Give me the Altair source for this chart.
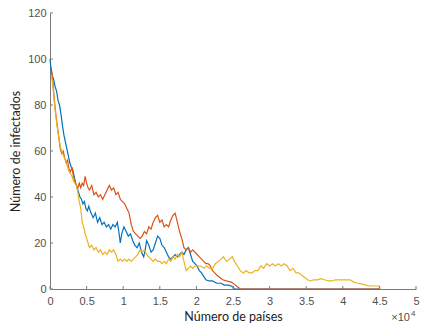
import altair as alt
import pandas as pd

blue = [(0,100),(0.01,97),(0.03,93),(0.05,91),(0.07,88),(0.09,86),(0.11,82),(0.13,80),(0.15,76),(0.17,71),
        (0.19,67),(0.21,64),(0.23,61),(0.25,58),(0.27,55),(0.29,53),(0.31,52),(0.33,49),(0.35,46),(0.37,44),
        (0.39,42),(0.41,40),(0.43,39),(0.45,37),(0.47,38),(0.49,35),(0.51,34),(0.53,36),(0.56,33),(0.59,31),
        (0.62,33),(0.65,29),(0.68,31),(0.71,28),(0.74,29),(0.77,27),(0.80,28),(0.83,26),(0.86,28),(0.89,27),
        (0.92,29),(0.94,25),(0.96,20),(0.98,24),(1.01,27),(1.04,25),(1.07,23),(1.10,24),(1.13,21),(1.16,19),
        (1.19,18),(1.22,20),(1.25,16),(1.28,14),(1.30,17),(1.32,21),(1.35,19),(1.38,16),(1.41,17),(1.44,20),
        (1.47,23),(1.50,22),(1.53,19),(1.56,18),(1.59,16),(1.62,14),(1.65,13),(1.68,14),(1.71,15),(1.74,14),
        (1.77,15),(1.80,16),(1.83,15),(1.86,17),(1.89,18),(1.92,15),(1.95,12),(1.98,11),(2.01,10),(2.04,8),
        (2.07,7),(2.10,5.5),(2.13,4),(2.17,3.5),(2.22,3.5),(2.28,2.5),(2.34,2.5),(2.38,1.7),(2.44,1.7),(2.50,1),
        (2.52,0),(4.5,0)]

orange = [(0.02,95),(0.04,90),(0.06,82),(0.08,76),(0.10,71),(0.12,66),(0.14,61),(0.16,59),(0.18,60),(0.20,57),
          (0.22,55),(0.24,56),(0.26,52),(0.28,51),(0.30,53),(0.32,49),(0.34,47),(0.36,45),(0.38,44),(0.40,46),
          (0.42,44),(0.44,46),(0.46,45),(0.48,49),(0.50,46),(0.52,44),(0.54,43),(0.57,45),(0.60,41),(0.63,42),
          (0.66,40),(0.69,41),(0.72,39),(0.75,41),(0.78,43),(0.81,45),(0.84,43),(0.87,44),(0.90,41),(0.93,42),
          (0.96,39),(0.99,38),(1.02,37),(1.05,35),(1.08,33),(1.11,28),(1.14,25),(1.17,24),(1.20,23),(1.23,22),
          (1.26,23),(1.29,25),(1.32,24),(1.35,27),(1.38,26),(1.41,29),(1.44,31),(1.47,32),(1.50,29),(1.53,30),
          (1.56,27),(1.59,28),(1.62,27),(1.65,30),(1.68,32),(1.71,33),(1.74,29),(1.77,25),(1.80,22),(1.83,18),
          (1.86,17),(1.89,18),(1.92,16),(1.95,17),(1.98,16),(2.01,15),(2.04,14),(2.07,13),(2.10,12),(2.13,11),
          (2.16,11),(2.19,10),(2.22,8),(2.25,7),(2.28,6),(2.32,5),(2.36,4),(2.42,3.4),(2.48,3),(2.52,2),
          (2.56,1),(2.60,0),(4.5,0)]

yellow = [(0.02,93),(0.04,88),(0.06,81),(0.08,75),(0.10,70),(0.12,66),(0.14,62),(0.16,60),(0.18,58),(0.20,57),
          (0.22,55),(0.24,53),(0.26,51),(0.28,50),(0.30,49),(0.32,47),(0.34,46),(0.36,45),(0.38,42),(0.40,38),
          (0.42,35),(0.44,29),(0.46,27),(0.48,24),(0.50,22),(0.52,20),(0.54,18),(0.57,19),(0.60,17),(0.63,18),
          (0.66,16),(0.69,17),(0.72,15),(0.75,16),(0.78,15),(0.81,17),(0.84,16),(0.87,17),(0.90,15),(0.93,12),
          (0.96,13),(0.99,12),(1.02,13),(1.05,12),(1.08,13),(1.11,12),(1.14,13),(1.17,14),(1.20,15),(1.23,17),
          (1.26,16),(1.29,17),(1.32,15),(1.35,14),(1.38,13),(1.41,12),(1.44,13),(1.47,12),(1.50,12),(1.53,11),
          (1.56,12),(1.59,11),(1.62,13),(1.65,12),(1.68,14),(1.71,13),(1.74,15),(1.77,14),(1.80,16),(1.83,12),
          (1.86,8),(1.89,9),(1.92,10),(1.95,9),(1.98,10),(2.02,10),(2.06,10),(2.10,9),(2.14,10),(2.18,9),
          (2.22,9),(2.26,11),(2.30,12),(2.34,13),(2.37,14),(2.41,12),(2.45,13),(2.49,14),(2.52,12),(2.56,10),
          (2.60,8),(2.64,7),(2.68,8),(2.72,7),(2.76,7),(2.80,8),(2.84,8),(2.88,10),(2.92,9),(2.96,11),
          (3.00,10),(3.04,11),(3.08,10),(3.12,11),(3.16,10),(3.20,11),(3.24,10),(3.28,8),(3.32,9),(3.36,7),
          (3.40,7),(3.44,6),(3.48,5),(3.52,4),(3.56,3.5),(3.60,4),(3.65,4),(3.70,4.5),(3.75,4),(3.80,3.5),
          (3.85,3.5),(3.90,4),(3.95,4),(4.00,4),(4.05,4),(4.10,4),(4.15,3),(4.20,2.5),(4.28,2),(4.34,1.5),
          (4.40,1.3),(4.50,1.3),(4.51,0)]

x_ticks = [0, 0.5, 1, 1.5, 2, 2.5, 3, 3.5, 4, 4.5, 5]
y_ticks = [0, 20, 40, 60, 80, 100, 120]
colors = ["#0072BD", "#D95319", "#EDB120"]

rows = []
for name, series in [("1", blue), ("2", orange), ("3", yellow)]:
    for i, (xv, yv) in enumerate(series):
        rows.append({"s": name, "i": i, "x": xv, "y": yv})
df = pd.DataFrame(rows)

W, H = 366, 276
axis_color = "#7a7a7a"
label_color = "#505050"

xscale = alt.Scale(domain=[0, 5], nice=False, zero=False)
yscale = alt.Scale(domain=[0, 120], nice=False)

xaxis = alt.Axis(values=x_ticks, format="~g", ticks=False, grid=False, labelOverlap=False,
                 labelFlush=False,
                 domainColor=axis_color, labelColor=label_color, labelFont="Liberation Sans",
                 labelFontSize=11, labelPadding=6, title="Número de países",
                 titleFont="Lato", titleFontSize=12.5, titleFontWeight="normal",
                 titleColor="#222222", titlePadding=4)
yaxis = alt.Axis(values=y_ticks, ticks=False, grid=False, labelOverlap=False,
                 domainColor=axis_color, labelColor=label_color, labelFont="Liberation Sans",
                 labelFontSize=11, labelPadding=4, title="Número de infectados",
                 titleFont="Lato", titleFontSize=12.5, titleFontWeight="normal",
                 titleColor="#222222", titlePadding=5)

lines = alt.Chart(df).mark_line(strokeWidth=1.2).encode(
    x=alt.X("x:Q", scale=xscale, axis=xaxis),
    y=alt.Y("y:Q", scale=yscale, axis=yaxis),
    color=alt.Color("s:N", scale=alt.Scale(domain=["1", "2", "3"], range=colors), legend=None),
    order="i:Q",
)

xt = alt.Chart(pd.DataFrame({"v": x_ticks})).mark_rule(color=axis_color, strokeWidth=1).encode(
    x=alt.X("v:Q", scale=xscale, axis=xaxis, title="Número de países"),
    y=alt.value(H), y2=alt.value(H - 3))
yt = alt.Chart(pd.DataFrame({"v": y_ticks})).mark_rule(color=axis_color, strokeWidth=1).encode(
    y=alt.Y("v:Q", scale=yscale, axis=yaxis, title="Número de infectados"),
    x=alt.value(0), x2=alt.value(3))

exp1 = alt.Chart(pd.DataFrame({"t": ["×10"]})).mark_text(
    align="right", baseline="alphabetic", fontSize=11, font="Liberation Sans", color=label_color
).encode(text="t:N", x=alt.value(W - 6), y=alt.value(H + 32))
exp2 = alt.Chart(pd.DataFrame({"t": ["4"]})).mark_text(
    align="left", baseline="alphabetic", fontSize=8, font="Liberation Sans", color=label_color
).encode(text="t:N", x=alt.value(W - 5), y=alt.value(H + 27))

chart = alt.layer(lines, xt, yt, exp1, exp2).properties(
    width=W, height=H,
    background="white",
    autosize=alt.AutoSizeParams(type="none"),
    padding={"left": 42, "top": 5, "right": 4, "bottom": 38},
).configure_view(strokeWidth=0, stroke="transparent").configure_axis(labelOverlap=False)

chart.save("out.html", embed_options={"renderer": "svg", "actions": False})
